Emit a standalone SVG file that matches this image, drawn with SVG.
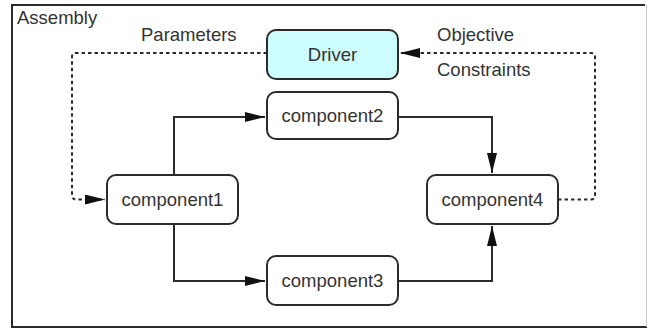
<svg xmlns="http://www.w3.org/2000/svg" width="648" height="330" viewBox="0 0 648 330">
  <style>
    .box { fill: #ffffff; stroke: #2b2b2b; stroke-width: 2; }
    .drv { fill: #ccfcfc; }
    .lbl { font-family: "Liberation Sans", Arial, sans-serif; font-size: 18.5px; fill: #333333; }
    .mid { text-anchor: middle; }
    .flow { fill: none; stroke: #2b2b2b; stroke-width: 2; }
    .data { fill: none; stroke: #2b2b2b; stroke-width: 2; stroke-dasharray: 3.5 3; }
  </style>
  <defs>
    <marker id="arrow" viewBox="0 0 20 10" refX="20" refY="5" markerWidth="20" markerHeight="10" markerUnits="userSpaceOnUse" orient="auto">
      <path d="M0,0 L20,5 L0,10 Z" fill="#111111"/>
    </marker>
  </defs>

  <rect x="0" y="0" width="648" height="330" fill="#ffffff"/>

  <!-- assembly frame -->
  <g id="assembly">
    <path d="M645,5 H12 V327 H647" fill="none" stroke="#2a2a2a" stroke-width="2"/>
    <line x1="646.5" y1="5" x2="646.5" y2="327" stroke="#c8c8c8" stroke-width="1"/>
    <text class="lbl" x="17" y="24">Assembly</text>
  </g>

  <!-- connectors -->
  <g id="connectors">
    <path class="flow" d="M174,175 V117 H265" marker-end="url(#arrow)"/>
    <path class="flow" d="M174,224 V281 H265" marker-end="url(#arrow)"/>
    <path class="flow" d="M398,117 H492 V173" marker-end="url(#arrow)"/>
    <path class="flow" d="M398,281 H492 V226" marker-end="url(#arrow)"/>
    <path class="data" d="M267,53 H76 Q72,53 72,57 V195 Q72,199.5 76,199.5 H105" marker-end="url(#arrow)"/>
    <path class="data" d="M558,199.5 H591 Q595,199.5 595,195 V57 Q595,53 591,53 H400" marker-end="url(#arrow)"/>
    <text class="lbl" x="141" y="41">Parameters</text>
    <text class="lbl" x="437" y="41">Objective</text>
    <text class="lbl" x="437" y="76">Constraints</text>
  </g>

  <g id="driver">
    <rect class="box drv" x="267" y="30" width="131" height="49" rx="9"/>
    <text class="lbl mid" x="332.5" y="61">Driver</text>
  </g>
  <g id="component2">
    <rect class="box" x="267" y="92" width="131" height="47" rx="9"/>
    <text class="lbl mid" x="332.5" y="122">component2</text>
  </g>
  <g id="component1">
    <rect class="box" x="107" y="175" width="131" height="49" rx="9"/>
    <text class="lbl mid" x="172.5" y="206">component1</text>
  </g>
  <g id="component4">
    <rect class="box" x="427" y="175" width="131" height="49" rx="9"/>
    <text class="lbl mid" x="492.5" y="206">component4</text>
  </g>
  <g id="component3">
    <rect class="box" x="267" y="256" width="131" height="49" rx="9"/>
    <text class="lbl mid" x="332.5" y="287">component3</text>
  </g>
</svg>
